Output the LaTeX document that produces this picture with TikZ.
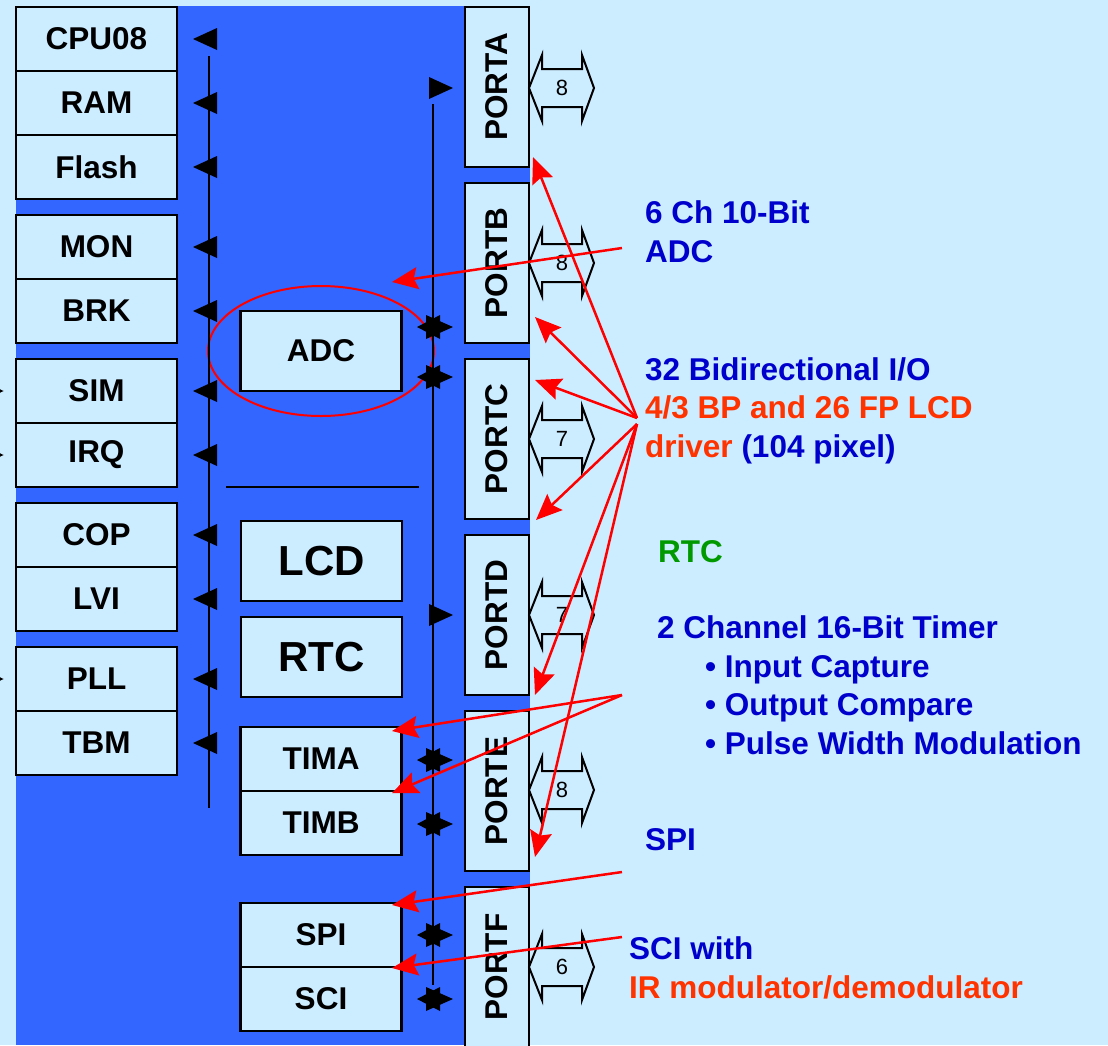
\documentclass[tikz,border=0pt]{standalone}
\usepackage{fontspec}
\setmainfont{Liberation Sans}
\usetikzlibrary{arrows.meta,positioning}

\definecolor{paleblue}{HTML}{CCECFF}
\definecolor{chipblue}{HTML}{3366FF}
\definecolor{txtblue}{HTML}{0000CC}
\definecolor{txtorange}{HTML}{FF3300}
\definecolor{txtgreen}{HTML}{009900}

% hollow double arrow beside a port: y, name, width label
\newcommand\portlink[3]{%
  \draw[line width=2pt, fill=paleblue] (529,#1) -- (542,#1-33) -- (542,#1-19) -- (582,#1-19)
    -- (582,#1-33) -- (594,#1) -- (582,#1+33) -- (582,#1+19) -- (542,#1+19) -- (542,#1+33) -- cycle;
  \node[font=\fontsize{22}{22}\selectfont, inner sep=0pt] (#2) at (562,#1) {#3};}

\begin{document}
\begin{tikzpicture}[
  x=1pt, y=-1pt,
  blk/.style={draw, line width=2.5pt, fill=paleblue, outer sep=0pt, inner sep=0pt,
    minimum width=161pt, minimum height=64pt, font=\bfseries\fontsize{31.5}{31.5}\selectfont},
  bigblk/.style={blk, minimum height=80pt, font=\bfseries\fontsize{42}{42}\selectfont},
  portbox/.style={blk, rotate=90, minimum width=160pt, minimum height=64pt},
  note/.style={anchor=base west, align=left, inner sep=0pt, text=txtblue,
    font=\bfseries\fontsize{31.5}{38.5}\selectfont},
  bus/.style={line width=2.5pt},
  redarrow/.style={-{Stealth[length=26pt,width=22pt,inset=4pt]}, red, line width=2.5pt},
  pin/.style={-{Latex[length=5pt,width=5pt]}, line width=1pt}
]
\useasboundingbox (0,0) rectangle (1108,1045);
\fill[paleblue] (0,0) rectangle (1108,1045);
\fill[chipblue] (16,6) rectangle (530,1045);

% left column
\node[blk] (cpu) at (96.5,39) {CPU08};
\node[blk, below=0pt of cpu] (ram) {RAM};
\node[blk, below=0pt of ram] (flash) {Flash};
\node[blk] (mon) at (96.5,247) {MON};
\node[blk, below=0pt of mon] (brk) {BRK};
\node[blk] (sim) at (96.5,391) {SIM};
\node[blk, below=0pt of sim] (irq) {IRQ};
\node[blk] (cop) at (96.5,535) {COP};
\node[blk, below=0pt of cop] (lvi) {LVI};
\node[blk] (pll) at (96.5,679) {PLL};
\node[blk, below=0pt of pll] (tbm) {TBM};

\draw[pin] ([xshift=-20pt]sim.west) -- ([xshift=-12pt]sim.west);
\draw[pin] ([xshift=-20pt]irq.west) -- ([xshift=-12pt]irq.west);
\draw[pin] ([xshift=-20pt]pll.west) -- ([xshift=-12pt]pll.west);

% middle column
\node[blk, minimum height=80pt] (adc) at (321,351) {ADC};
\node[bigblk] (lcd) at (321.5,561) {LCD};
\node[bigblk, below=16pt of lcd] (rtc) {RTC};
\node[blk] (tima) at (321,759) {TIMA};
\node[blk, below=0pt of tima] (timb) {TIMB};
\node[blk] (spi) at (321,935) {SPI};
\node[blk, below=0pt of spi] (sci) {SCI};

\draw[line width=2pt] (226,487) -- (419,487);
\draw[red, line width=2pt] (adc.center) ellipse [x radius=113pt, y radius=65pt];

% buses
\draw[bus] (209,56) -- (209,808);
\foreach \y in {39,103,167,247,311,391,455,535,599,679,743}
  \fill (217,\y-11) -- (193,\y) -- (217,\y+11) -- cycle;
\draw[bus] (433,104) -- (433,985);
\foreach \y in {88,615}
  \fill (429,\y-11) -- (453,\y) -- (429,\y+11) -- cycle;
\foreach \y in {327,377,760,824,935,999}{
  \fill (440,\y-12) -- (417,\y) -- (440,\y+12) -- cycle;
  \fill (426,\y-12) -- (453,\y) -- (426,\y+12) -- cycle;}

% ports
\node[portbox] (porta) at (497,87) {PORTA};
\node[portbox] (portb) at (497,263) {PORTB};
\node[portbox] (portc) at (497,439) {PORTC};
\node[portbox] (portd) at (497,615) {PORTD};
\node[portbox] (porte) at (497,791) {PORTE};
\node[portbox] (portf) at (497,967) {PORTF};

\portlink{88}{pa}{8}
\portlink{263}{pb}{8}
\portlink{439}{pc}{7}
\portlink{615}{pd}{7}
\portlink{790}{pe}{8}
\portlink{967}{pf}{6}

% notes (anchored at the last line's baseline)
\node[note] (adcnote) at (645,262) {6 Ch 10-Bit\\ADC};
\node[note] (ionote) at (645,457) {32 Bidirectional I/O\\{\color{txtorange}4/3 BP and 26 FP LCD}\\{\color{txtorange}driver} (104 pixel)};
\node[note, text=txtgreen] (rtcnote) at (658,562) {RTC};
\node[note] (timnote) at (657,754) {2 Channel 16-Bit Timer\\\hspace*{48pt}• Input Capture\\\hspace*{48pt}• Output Compare\\\hspace*{48pt}• Pulse Width Modulation};
\node[note] (spinote) at (645,850) {SPI};
\node[note] (scinote) at (629,998) {SCI with\\{\color{txtorange}IR modulator/demodulator}};

% red pointers
\coordinate (adcsrc) at (622,248);
\coordinate (iosrc) at (637,418);
\coordinate (lcdsrc) at (637,424);
\coordinate (timsrc) at (622,695);
\coordinate (spisrc) at (622,872);
\coordinate (scisrc) at (622,937);
\coordinate (adctip) at (392,282);
\coordinate (patip) at (533,157);
\coordinate (pbtip) at (535,317);
\coordinate (pctip) at (535,380);
\coordinate (pcbot) at (536,520);
\coordinate (pdtip) at (535,695);
\coordinate (petip) at (535,857);
\coordinate (timatip) at (392,731);
\coordinate (timbtip) at (392,793);
\coordinate (spitip) at (392,905);
\coordinate (scitip) at (392,968);

\draw[redarrow] (adcsrc) -- (adctip);
\draw[redarrow] (iosrc) -- (patip);
\draw[redarrow] (iosrc) -- (pbtip);
\draw[redarrow] (iosrc) -- (pctip);
\draw[redarrow] (lcdsrc) -- (pcbot);
\draw[redarrow] (lcdsrc) -- (pdtip);
\draw[redarrow] (lcdsrc) -- (petip);
\draw[redarrow] (timsrc) -- (timatip);
\draw[redarrow] (timsrc) -- (timbtip);
\draw[redarrow] (spisrc) -- (spitip);
\draw[redarrow] (scisrc) -- (scitip);

\end{tikzpicture}
\end{document}
